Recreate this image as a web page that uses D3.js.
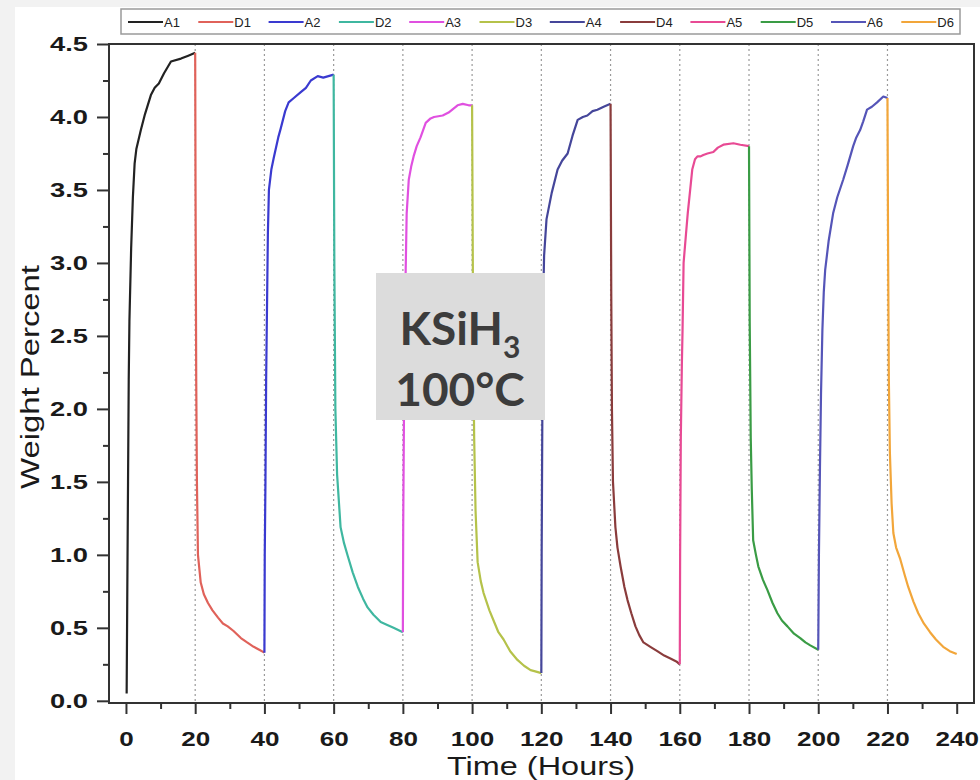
<!DOCTYPE html>
<html>
<head>
<meta charset="utf-8">
<script src="https://cdn.jsdelivr.net/npm/d3@7"></script>
<style>
  html, body { margin: 0; padding: 0; background: #f2f2f2; }
  svg { display: block; }
</style>
</head>
<body>
<svg id="chart" width="980" height="780"></svg>
<script>
// cycle labels and colours, in legend order
var seriesNames = ['A1', 'D1', 'A2', 'D2', 'A3', 'D3', 'A4', 'D4', 'A5', 'D5', 'A6', 'D6'];
var seriesColors = ['#222222', '#e0625a', '#3a3ad0', '#3fb7a0', '#e050e0', '#b5c24a',
                    '#45469a', '#8a3c3c', '#e84a94', '#3a9c45', '#5555b8', '#f2a63a'];

// time (hours) / weight percent
var A1 = [[0.2,0.05],[0.4,0.8],[0.6,1.5],[0.8,2.2],[1.0,2.6],[1.5,3.1],[2,3.45],[2.5,3.68],[3,3.78],
  [4.3,3.91],[5.5,4.02],[7.2,4.15],[8.3,4.2],[9.5,4.23],[11,4.3],[13,4.38],[15.9,4.4],[18,4.42],[20,4.44]];
var D1 = [[20,4.44],[20.1,3.5],[20.3,2.2],[20.5,1.5],[20.8,1.0],[21.6,0.81],[22.5,0.73],[23.7,0.67],
  [25,0.62],[26.6,0.57],[28,0.53],[29.4,0.51],[31,0.48],[33.2,0.43],[35,0.4],[36.9,0.37],[38.5,0.35],[40,0.33]];
var A2 = [[40,0.33],[40.1,1.0],[40.3,1.5],[40.5,2.2],[40.7,2.6],[41,3.2],[41.3,3.5],[42,3.64],[42.7,3.72],
  [44,3.86],[44.7,3.92],[46,4.04],[47,4.1],[48.5,4.13],[50.5,4.17],[52,4.2],[53.4,4.25],[55.4,4.28],
  [57,4.27],[58.5,4.28],[60,4.29]];
var D2 = [[60,4.29],[60.2,3.0],[60.5,2.0],[61,1.55],[62,1.19],[63,1.08],[64.1,0.99],[65.5,0.88],[67,0.78],
  [68.5,0.7],[69.8,0.64],[71.5,0.59],[73.6,0.54],[75.5,0.52],[77.3,0.5],[80,0.47]];
var A3 = [[80,0.47],[80.1,1.2],[80.3,1.9],[80.5,2.4],[80.8,2.93],[81.1,3.34],[81.7,3.57],[82.4,3.66],
  [83.1,3.73],[84,3.8],[85.1,3.86],[86.6,3.96],[88,3.99],[89,4.0],[91.5,4.01],[93.2,4.03],[95.8,4.08],
  [97.3,4.09],[99,4.08],[100,4.08]];
var D3 = [[100,4.08],[100.3,2.5],[100.6,1.8],[101,1.3],[101.6,0.95],[102.5,0.82],[103.3,0.74],[105,0.62],
  [106.2,0.55],[107.6,0.47],[109.1,0.42],[111,0.34],[113.1,0.28],[115,0.24],[116.9,0.21],[118.5,0.2],[120,0.19]];
var A4 = [[120,0.19],[120.1,1.0],[120.3,2.0],[120.5,2.7],[120.8,3.05],[121.5,3.3],[122,3.36],[123,3.48],
  [124.7,3.64],[126,3.7],[127.6,3.75],[129,3.87],[130.5,3.98],[132,4.0],[133.3,4.01],[134.8,4.04],
  [136.2,4.05],[138,4.07],[140,4.09]];
var D4 = [[140,4.09],[140.2,2.8],[140.4,2.0],[140.7,1.5],[141.4,1.19],[142,1.05],[142.9,0.92],[144,0.78],
  [144.9,0.69],[146,0.6],[147.2,0.51],[148.3,0.45],[149.5,0.4],[151.5,0.37],[153.5,0.34],[155.5,0.31],
  [157.3,0.29],[159,0.27],[160,0.25]];
var A5 = [[160,0.25],[160.1,1.0],[160.3,1.8],[160.6,2.3],[160.8,2.54],[161.1,3.0],[161.8,3.2],[162.3,3.34],
  [163,3.5],[163.6,3.64],[164.4,3.71],[165.1,3.73],[166,3.73],[166.8,3.74],[168,3.75],[169.7,3.76],
  [171,3.79],[172.6,3.81],[175.5,3.82],[177.5,3.81],[180,3.8]];
var D5 = [[180,3.8],[180.2,2.6],[180.5,1.8],[180.8,1.45],[181.2,1.1],[182,1.0],[182.7,0.92],[184,0.83],
  [185.3,0.76],[186.8,0.67],[188.2,0.6],[189.5,0.55],[191.1,0.51],[193,0.46],[194.8,0.43],[196.3,0.4],
  [197.7,0.38],[200,0.35]];
var A6 = [[200,0.35],[200.2,1.0],[200.5,1.6],[200.8,2.1],[201.2,2.54],[201.6,2.8],[202,2.95],[203,3.15],
  [204.3,3.34],[205.5,3.45],[207.2,3.57],[208.5,3.67],[210.1,3.8],[211,3.86],[212.1,3.91],[213,3.97],
  [214.1,4.05],[215.5,4.07],[217,4.1],[218.8,4.14],[220,4.13]];
var D6 = [[220,4.13],[220.2,3.0],[220.4,2.2],[220.7,1.7],[221.2,1.35],[221.7,1.15],[222.5,1.05],[223.7,0.97],
  [225,0.86],[226,0.78],[227.5,0.68],[228.9,0.6],[230.5,0.53],[232.3,0.47],[234,0.42],[236.1,0.37],
  [238,0.34],[240,0.32]];
var seriesData = [A1, D1, A2, D2, A3, D3, A4, D4, A5, D5, A6, D6];

var xTicks = [0, 20, 40, 60, 80, 100, 120, 140, 160, 180, 200, 220, 240];
var xMinorTicks = [10, 30, 50, 70, 90, 110, 130, 150, 170, 190, 210, 230];
var yTicks = [0, 0.5, 1.0, 1.5, 2.0, 2.5, 3.0, 3.5, 4.0, 4.5];
var yMinorTicks = [0.25, 0.75, 1.25, 1.75, 2.25, 2.75, 3.25, 3.75, 4.25];
var cycleBoundaries = [20, 40, 60, 80, 100, 120, 140, 160, 180, 200, 220];

(function () {
  'use strict';

  var plotLeft = 109, plotRight = 974, plotTop = 44, plotBottom = 703;
  var axisFont = '"Liberation Sans", Arial, sans-serif';

  var svg = d3.select('#chart');

  // white panel behind the chart
  svg.append('rect')
    .attr('x', 15).attr('y', 7).attr('width', 965).attr('height', 773)
    .attr('fill', '#ffffff');

  var x = d3.scaleLinear().domain([-4.9, 245]).range([plotLeft, plotRight]);
  var y = d3.scaleLinear().domain([-0.015, 4.5]).range([plotBottom, plotTop]);

  // dotted cycle boundaries
  svg.append('g')
    .selectAll('line')
    .data(cycleBoundaries)
    .join('line')
    .attr('x1', function (d) { return x(d); })
    .attr('x2', function (d) { return x(d); })
    .attr('y1', plotTop)
    .attr('y2', plotBottom)
    .attr('stroke', '#9a9a9a')
    .attr('stroke-width', 1.2)
    .attr('stroke-dasharray', '2,3');

  // series
  var line = d3.line()
    .x(function (d) { return x(d[0]); })
    .y(function (d) { return y(d[1]); });

  svg.append('g')
    .selectAll('path')
    .data(seriesData)
    .join('path')
    .attr('d', line)
    .attr('fill', 'none')
    .attr('stroke', function (d, i) { return seriesColors[i]; })
    .attr('stroke-width', 2.2)
    .attr('stroke-linejoin', 'round');

  // frame
  svg.append('rect')
    .attr('x', plotLeft).attr('y', plotTop)
    .attr('width', plotRight - plotLeft).attr('height', plotBottom - plotTop)
    .attr('fill', 'none')
    .attr('stroke', '#333')
    .attr('stroke-width', 2);

  // x axis
  var xAxisG = svg.append('g')
    .attr('transform', 'translate(0,' + plotBottom + ')')
    .call(d3.axisBottom(x).tickValues(xTicks).tickSize(11).tickPadding(17).tickFormat(d3.format('d')));
  svg.append('g')
    .attr('transform', 'translate(0,' + plotBottom + ')')
    .call(d3.axisBottom(x).tickValues(xMinorTicks).tickSize(6).tickFormat(''));

  // y axis
  var yAxisG = svg.append('g')
    .attr('transform', 'translate(' + plotLeft + ',0)')
    .call(d3.axisLeft(y).tickValues(yTicks).tickSize(12).tickPadding(9).tickFormat(d3.format('.1f')));
  svg.append('g')
    .attr('transform', 'translate(' + plotLeft + ',0)')
    .call(d3.axisLeft(y).tickValues(yMinorTicks).tickSize(6).tickFormat(''));

  svg.selectAll('.domain').remove();
  svg.selectAll('.tick line').attr('stroke', '#333').attr('stroke-width', 2);
  svg.selectAll('.tick text')
    .attr('fill', '#1a1a1a')
    .style('font-family', axisFont)
    .style('font-size', '21px')
    .style('font-weight', 'bold');

  // the source labels are a little wider than Arial
  xAxisG.selectAll('.tick text')
    .attr('lengthAdjust', 'spacingAndGlyphs')
    .attr('textLength', function (d) { return String(d).length * 14.5; });
  yAxisG.selectAll('.tick text')
    .attr('lengthAdjust', 'spacingAndGlyphs')
    .attr('textLength', 38);

  // axis titles
  svg.append('text')
    .attr('x', 541).attr('y', 775)
    .attr('text-anchor', 'middle')
    .attr('lengthAdjust', 'spacingAndGlyphs')
    .attr('textLength', 188)
    .style('font-family', axisFont)
    .style('font-size', '25px')
    .attr('fill', '#1a1a1a')
    .text('Time (Hours)');

  svg.append('text')
    .attr('transform', 'translate(39,377) rotate(-90)')
    .attr('text-anchor', 'middle')
    .attr('lengthAdjust', 'spacingAndGlyphs')
    .attr('textLength', 224)
    .style('font-family', axisFont)
    .style('font-size', '25px')
    .attr('fill', '#1a1a1a')
    .text('Weight Percent');

  // legend
  var legend = svg.append('g');
  legend.append('rect')
    .attr('x', 121).attr('y', 9).attr('width', 839).attr('height', 25)
    .attr('fill', '#fff')
    .attr('stroke', '#9a9a9a')
    .attr('stroke-width', 1.5);

  var item = legend.selectAll('g.item')
    .data(seriesNames)
    .join('g')
    .attr('class', 'item')
    .attr('transform', function (d, i) { return 'translate(' + (128 + i * 70.3) + ',22)'; });

  item.append('line')
    .attr('x1', 0).attr('x2', 35)
    .attr('stroke', function (d, i) { return seriesColors[i]; })
    .attr('stroke-width', 2);

  item.append('text')
    .attr('x', 36).attr('y', 5)
    .style('font-family', '"Liberation Sans Narrow", "Liberation Sans", Arial, sans-serif')
    .style('font-size', '13px')
    .attr('fill', '#222')
    .text(function (d) { return d; });

  // annotation box
  svg.append('rect')
    .attr('x', 376).attr('y', 273).attr('width', 169).attr('height', 147)
    .attr('fill', '#dcdcdc');

  var ann = svg.append('text')
    .attr('x', 460).attr('y', 345)
    .attr('text-anchor', 'middle')
    .style('font-family', 'Lato, "Open Sans", sans-serif')
    .style('font-size', '46px')
    .style('font-weight', 'bold')
    .attr('fill', '#3c3c3c');
  ann.append('tspan').text('KSiH');
  ann.append('tspan').attr('dy', 13).style('font-size', '30px').text('3');

  svg.append('text')
    .attr('x', 460).attr('y', 406)
    .attr('text-anchor', 'middle')
    .style('font-family', 'Lato, "Open Sans", sans-serif')
    .style('font-size', '46px')
    .style('font-weight', 'bold')
    .attr('fill', '#3c3c3c')
    .text('100°C');
})();
</script>
</body>
</html>
